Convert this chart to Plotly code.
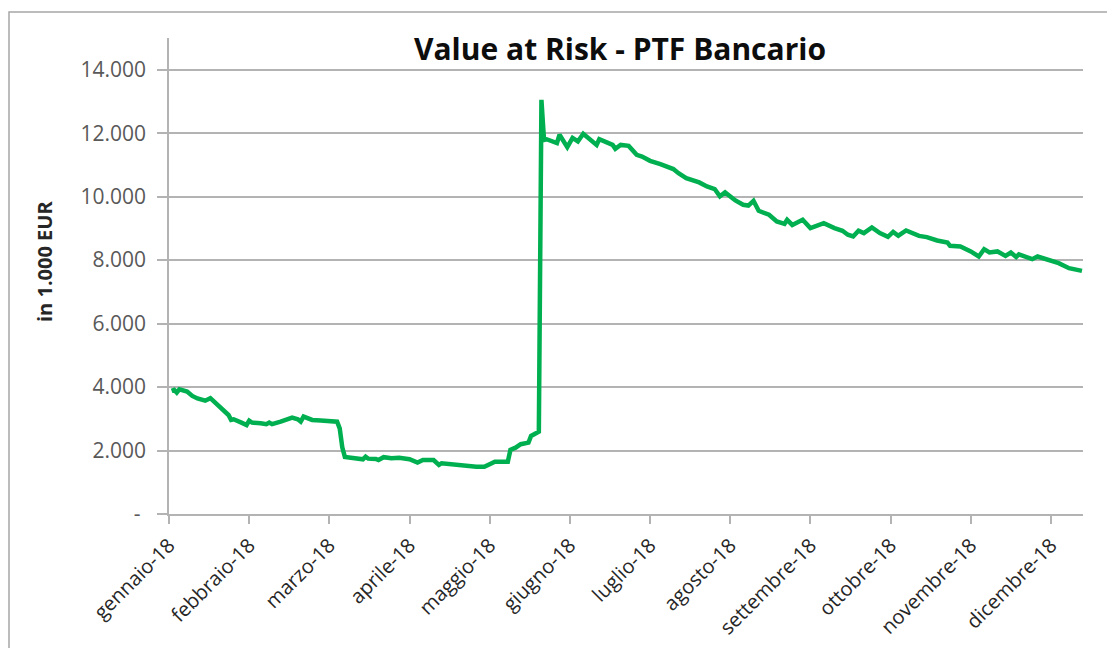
import pandas as pd
import plotly.graph_objects as go

dates = [
    "2018-01-02", "2018-01-03", "2018-01-04", "2018-01-05", "2018-01-08", "2018-01-10", "2018-01-12",
    "2018-01-15", "2018-01-17", "2018-01-19", "2018-01-22", "2018-01-24", "2018-01-25", "2018-01-26",
    "2018-01-29", "2018-01-31",
    "2018-02-01", "2018-02-02", "2018-02-05", "2018-02-07", "2018-02-08", "2018-02-09", "2018-02-12",
    "2018-02-14", "2018-02-16", "2018-02-18", "2018-02-19", "2018-02-20", "2018-02-22", "2018-02-23",
    "2018-02-26", "2018-02-28",
    "2018-03-04", "2018-03-05", "2018-03-06", "2018-03-07", "2018-03-08", "2018-03-12", "2018-03-14",
    "2018-03-15", "2018-03-16", "2018-03-19", "2018-03-20", "2018-03-22", "2018-03-25", "2018-03-28",
    "2018-04-01", "2018-04-04", "2018-04-06", "2018-04-10", "2018-04-12", "2018-04-13", "2018-04-17",
    "2018-04-20", "2018-04-23", "2018-04-26", "2018-04-29",
    "2018-05-01", "2018-05-03", "2018-05-06", "2018-05-08", "2018-05-09", "2018-05-11", "2018-05-13",
    "2018-05-16", "2018-05-17", "2018-05-19", "2018-05-20", "2018-05-21", "2018-05-22", "2018-05-23",
    "2018-05-27", "2018-05-28", "2018-05-31",
    "2018-06-02", "2018-06-04", "2018-06-06", "2018-06-08", "2018-06-11", "2018-06-12", "2018-06-15",
    "2018-06-17", "2018-06-18", "2018-06-20", "2018-06-23", "2018-06-26", "2018-06-28",
    "2018-07-01", "2018-07-05", "2018-07-10", "2018-07-12", "2018-07-15", "2018-07-20", "2018-07-23",
    "2018-07-26", "2018-07-28", "2018-07-30",
    "2018-08-01", "2018-08-03", "2018-08-06", "2018-08-08", "2018-08-10", "2018-08-12", "2018-08-16",
    "2018-08-19", "2018-08-22", "2018-08-23", "2018-08-25", "2018-08-29",
    "2018-09-01", "2018-09-06", "2018-09-10", "2018-09-13", "2018-09-15", "2018-09-17", "2018-09-19",
    "2018-09-21", "2018-09-24", "2018-09-27", "2018-09-30",
    "2018-10-02", "2018-10-04", "2018-10-07", "2018-10-12", "2018-10-15", "2018-10-19", "2018-10-23",
    "2018-10-24", "2018-10-28",
    "2018-11-01", "2018-11-04", "2018-11-06", "2018-11-08", "2018-11-11", "2018-11-14", "2018-11-16",
    "2018-11-18", "2018-11-19", "2018-11-24", "2018-11-26",
    "2018-12-01", "2018-12-04", "2018-12-08", "2018-12-13",
]

var_values = [
    3880, 3910, 3825, 3930, 3860, 3720, 3640,
    3570, 3650, 3490, 3280, 3120, 2965, 2985,
    2880, 2805,
    2940, 2880, 2860, 2830, 2880, 2830, 2910,
    2985, 3040, 2985, 2910, 3070, 3020, 2965,
    2950, 2930,
    2910, 2700, 2100, 1800, 1790, 1755, 1725,
    1805, 1745, 1735, 1700, 1790, 1755, 1775,
    1725, 1620, 1700, 1700, 1545, 1600, 1565,
    1525, 1525, 1490, 1490,
    1575, 1650, 1650, 1650, 2020, 2090, 2200,
    2250, 2460, 2575, 2595, 13050, 11790, 11810,
    11690, 11950, 11560,
    11850, 11740, 11980, 11850, 11630, 11810, 11720,
    11630, 11510, 11630, 11600, 11320, 11265,
    11130, 11025, 10870, 10740, 10585, 10450, 10320,
    10240, 10010, 10135,
    10010, 9880, 9745, 9720, 9870, 9555, 9430,
    9220, 9145, 9270, 9110, 9270,
    9010, 9165, 9010, 8925, 8800, 8745, 8925,
    8850, 9030, 8850, 8735,
    8890, 8770, 8935, 8765, 8725, 8620, 8555,
    8450, 8430,
    8275, 8115, 8345, 8240, 8275, 8135, 8240,
    8100, 8180, 8030, 8115,
    7975, 7905, 7745, 7660,
]

month_labels = [
    "gennaio-18", "febbraio-18", "marzo-18", "aprile-18", "maggio-18", "giugno-18",
    "luglio-18", "agosto-18", "settembre-18", "ottobre-18", "novembre-18", "dicembre-18",
]

y_tickvals = [0, 2000, 4000, 6000, 8000, 10000, 12000, 14000]
y_ticktext = ["-\u00a0", "2.000", "4.000", "6.000", "8.000", "10.000", "12.000", "14.000"]

title_text = "Value at Risk - PTF Bancario"
y_title = "in 1.000 EUR"

# month-based position: every month takes the same width on the axis
d = pd.to_datetime(pd.Series(dates))
pos = (d.dt.month - 1) + (d.dt.day - 1) / d.dt.days_in_month

FONT = "Open Sans"
GRID = "#b3b3b3"
TXT = "#595959"

fig = go.Figure()
fig.add_trace(go.Scatter(
    x=pos, y=var_values, mode="lines",
    line=dict(color="#00b050", width=4.5),
    showlegend=False, hoverinfo="y",
))

# the page adds an 8px body margin, so layout coords = screen coords - 8
OFF = 8
W, H = 1115, 648
L, T = 169 - OFF, 38 - OFF
RX, BY = 1083 - OFF, 514 - OFF
R, B = W - RX, H - BY
pw, ph = RX - L, BY - T

def px_x(x):
    return (x - OFF - L) / pw

def px_y(y):
    return (BY - (y - OFF)) / ph

fig.update_layout(
    width=W, height=H,
    margin=dict(l=L, r=R, t=T, b=B, pad=0),
    paper_bgcolor="white", plot_bgcolor="white",
    font=dict(family=FONT, color=TXT),
    showlegend=False,
)

fig.update_xaxes(
    range=[0, 11.4],
    tickmode="array",
    tickvals=list(range(len(month_labels))),
    ticktext=month_labels,
    tickangle=-45,
    tickfont=dict(size=20, color="#262626", family=FONT),
    showgrid=False, zeroline=False,
    showline=True, linecolor=GRID, linewidth=1.5,
    ticks="outside", ticklen=8, tickcolor=GRID, tickwidth=1.5,
    ticklabelstandoff=2,
    automargin=False,
)

fig.update_yaxes(
    range=[0, 15000],
    tickmode="array",
    tickvals=y_tickvals, ticktext=y_ticktext,
    tickfont=dict(size=21, color=TXT, family=FONT),
    showgrid=True, gridcolor=GRID, gridwidth=1.5,
    zeroline=False,
    showline=True, linecolor=GRID, linewidth=1.5,
    ticks="outside", ticklen=10, tickcolor=GRID, tickwidth=1.5,
    ticklabelstandoff=7,
    automargin=False,
)

fig.add_annotation(
    text=f"<b>{title_text}</b>",
    x=px_x(620), y=px_y(48), xref="paper", yref="paper",
    xanchor="center", yanchor="middle", showarrow=False,
    font=dict(size=30, color="#0d0d0d", family=FONT),
)

fig.add_annotation(
    text=f"<b>{y_title}</b>",
    x=px_x(44), y=px_y(262), xref="paper", yref="paper",
    xanchor="center", yanchor="middle", showarrow=False, textangle=-90,
    font=dict(size=20, color="#262626", family=FONT),
)

fig.add_shape(
    type="rect", xref="paper", yref="paper",
    x0=px_x(9), x1=px_x(1109), y0=px_y(670), y1=px_y(12),
    line=dict(color="#a6a6a6", width=1.5), fillcolor="rgba(0,0,0,0)", layer="below",
)

fig.write_html("out.html")
